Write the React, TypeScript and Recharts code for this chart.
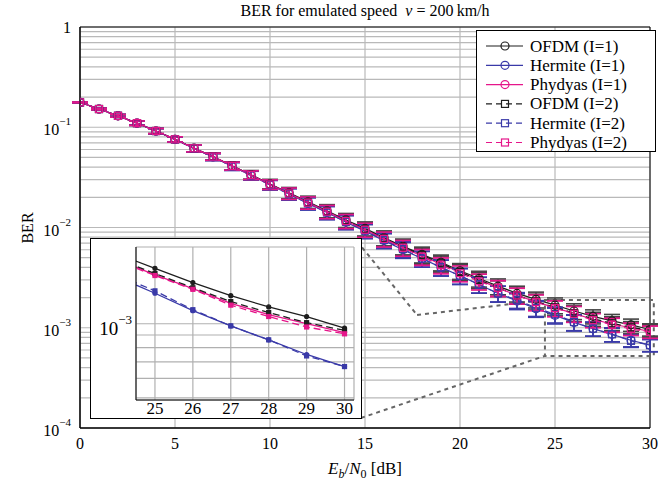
import React from "react";
import {
  LineChart,
  Line,
  XAxis,
  YAxis,
  CartesianGrid,
  ErrorBar,
  Legend,
  ReferenceArea,
  ReferenceLine,
} from "recharts";

const FONT = "'Liberation Serif', 'DejaVu Serif', serif";

// Eb/N0 in dB
const snrDb = [
  0, 1, 2, 3, 4, 5, 6, 7, 8, 9, 10, 11, 12, 13, 14, 15, 16, 17, 18, 19, 20, 21, 22, 23, 24, 25, 26, 27, 28, 29, 30,
];

const ofdmI1 = [
  0.177, 0.152, 0.13, 0.11, 0.0918, 0.0758, 0.0618, 0.051, 0.0413, 0.0336, 0.0272, 0.0222, 0.018, 0.0147, 0.0119,
  0.0098, 0.0079, 0.0065, 0.0054, 0.0045, 0.0037, 0.0031, 0.0026, 0.0022, 0.00192, 0.00168, 0.00147, 0.0013,
  0.00117, 0.00107, 0.00096,
];
const hermiteI1 = [
  0.177, 0.152, 0.13, 0.11, 0.0916, 0.0756, 0.0615, 0.0506, 0.0408, 0.0331, 0.0266, 0.0216, 0.0174, 0.0141, 0.0113,
  0.0092, 0.0074, 0.006, 0.0049, 0.004, 0.0033, 0.0027, 0.0022, 0.00185, 0.00155, 0.00133, 0.00113, 0.00098,
  0.00086, 0.00075, 0.00067,
];
const phydyasI1 = [
  0.177, 0.152, 0.13, 0.11, 0.0918, 0.0758, 0.0617, 0.0509, 0.0411, 0.0334, 0.0269, 0.0219, 0.0177, 0.0144, 0.0116,
  0.0095, 0.0077, 0.0063, 0.0052, 0.0043, 0.0036, 0.003, 0.0025, 0.0021, 0.00182, 0.00158, 0.00139, 0.00121,
  0.00109, 0.001, 0.00092,
];
const ofdmI2 = [
  0.177, 0.152, 0.13, 0.11, 0.0918, 0.0758, 0.0617, 0.0509, 0.0412, 0.0335, 0.027, 0.022, 0.0178, 0.0145, 0.0117,
  0.0096, 0.0078, 0.0064, 0.0053, 0.0044, 0.0036, 0.003, 0.0025, 0.0021, 0.00183, 0.0016, 0.0014, 0.00123,
  0.00111, 0.00101, 0.00094,
];
const hermiteI2 = [
  0.177, 0.152, 0.13, 0.11, 0.0916, 0.0756, 0.0615, 0.0506, 0.0408, 0.0331, 0.0266, 0.0216, 0.0174, 0.0141, 0.0114,
  0.0093, 0.0075, 0.0061, 0.0049, 0.004, 0.0033, 0.0027, 0.0022, 0.0019, 0.00158, 0.00136, 0.00114, 0.00098,
  0.00086, 0.00074, 0.00067,
];
const phydyasI2 = [
  0.177, 0.152, 0.13, 0.11, 0.0918, 0.0758, 0.0617, 0.0509, 0.0411, 0.0334, 0.0269, 0.0219, 0.0177, 0.0144, 0.0116,
  0.0095, 0.0077, 0.0063, 0.0051, 0.0042, 0.0035, 0.0029, 0.0025, 0.0021, 0.0018, 0.00157, 0.00138, 0.00119,
  0.00107, 0.00097, 0.00091,
];

// half-width of the error bars, % of the value
const errPct = [
  1, 2, 3, 5, 6, 6, 8, 8, 9, 10, 11, 13, 14, 15, 16, 16, 17, 18, 18, 18, 18, 18, 18, 18, 18, 18, 18, 16, 16, 14, 14,
];

const xTicks = [0, 5, 10, 15, 20, 25, 30];
const decades = [1e-4, 1e-3, 1e-2, 1e-1, 1];
const minorSteps = [2, 3, 4, 5, 6, 7, 8, 9];

const insetXTicks = [25, 26, 27, 28, 29, 30];
const insetYTicks = [5e-4, 6e-4, 7e-4, 8e-4, 9e-4, 1e-3];
const insetXDomain = [24.5, 30.25];
const insetYDomain = [4.9e-4, 2.05e-3];

// dashed zoom box and connectors (data coords of main plot)
const zoomBox = { x1: 24.47, x2: 30.2, y1: 5.24e-4, y2: 1.89e-3 };
const connectorTop = [
  { x: 14.58, y: 7.3e-3 },
  { x: 17.74, y: 1.34e-3 },
  { x: 24.47, y: 1.89e-3 },
];
const connectorBottom = [
  { x: 14.79, y: 1.26e-4 },
  { x: 24.47, y: 5.24e-4 },
];

const BLACK = "#1e1e1e";
const BLUE = "#3a3aa8";
const PINK = "#e5168a";

const series = [
  { key: "ofdm1", name: "OFDM (I=1)", values: ofdmI1, color: BLACK, bar: "#444", dashed: false, shape: "circle" },
  { key: "herm1", name: "Hermite (I=1)", values: hermiteI1, color: BLUE, bar: BLUE, dashed: false, shape: "circle" },
  { key: "phyd1", name: "Phydyas (I=1)", values: phydyasI1, color: PINK, bar: PINK, dashed: false, shape: "circle" },
  { key: "ofdm2", name: "OFDM (I=2)", values: ofdmI2, color: BLACK, bar: "#444", dashed: true, shape: "square" },
  { key: "herm2", name: "Hermite (I=2)", values: hermiteI2, color: BLUE, bar: BLUE, dashed: true, shape: "square" },
  { key: "phyd2", name: "Phydyas (I=2)", values: phydyasI2, color: PINK, bar: PINK, dashed: true, shape: "square" },
];

const table = snrDb.map((x, i) => {
  const row: Record<string, any> = { x };
  series.forEach((s) => {
    const v = s.values[i];
    const e = (v * errPct[i]) / 100;
    row[s.key] = v;
    row["e_" + s.key] = [e, e];
  });
  return row;
});

const yTicks = decades.flatMap((d) => (d === 1 ? [d] : [d, ...minorSteps.map((m) => +(m * d).toPrecision(3))]));

const serif = { fontFamily: FONT };

function makeDot(shape: string, color: string, size: number, filled: boolean) {
  return (props: any) => {
    const { cx, cy, index } = props;
    if (cx == null || cy == null) return <g key={index} />;
    if (shape === "square") {
      return (
        <rect
          key={index}
          x={cx - size}
          y={cy - size}
          width={size * 2}
          height={size * 2}
          fill={filled ? color : "none"}
          stroke={color}
          strokeWidth={1.2}
        />
      );
    }
    return (
      <circle key={index} cx={cx} cy={cy} r={size} fill={filled ? color : "none"} stroke={color} strokeWidth={1.2} />
    );
  };
}

function PowerTick(props: any) {
  const { x, y, payload, big } = props;
  const v = payload.value;
  const shown = big ? v === 1e-3 : decades.includes(v);
  if (!shown) return <g />;
  const exp = Math.round(Math.log10(v));
  const fs = big ? 19 : 16;
  return (
    <text x={x} y={y} textAnchor="end" dominantBaseline="central" fontSize={fs} fill="#000" style={serif}>
      {exp === 0 ? (
        "1"
      ) : (
        <>
          <tspan dy={big ? 4 : 2}>10</tspan>
          <tspan dy={big ? -9 : -8} fontSize={big ? 13 : 11}>
            {"\u2212" + -exp}
          </tspan>
        </>
      )}
    </text>
  );
}

function PlainTick(props: any) {
  const { x, y, payload, size } = props;
  return (
    <text x={x} y={y} textAnchor="middle" dominantBaseline="hanging" fontSize={size} fill="#000" style={serif}>
      {payload.value}
    </text>
  );
}

function XLabel(props: any) {
  const { x, y, width } = props.viewBox;
  return (
    <text x={x + width / 2} y={y + 46} textAnchor="middle" fontSize={17} fill="#000" style={serif}>
      <tspan fontStyle="italic">E</tspan>
      <tspan dy={4} fontSize={12} fontStyle="italic">
        b
      </tspan>
      <tspan dy={-4}>/</tspan>
      <tspan fontStyle="italic">N</tspan>
      <tspan dy={4} fontSize={12}>
        0
      </tspan>
      <tspan dy={-4}>{" [dB]"}</tspan>
    </text>
  );
}

function YLabel() {
  return (
    <text
      x={27}
      y={228}
      textAnchor="middle"
      dominantBaseline="central"
      transform="rotate(-90 27 228)"
      fontSize={16}
      fill="#000"
      style={serif}
    >
      BER
    </text>
  );
}

function LegendBox() {
  return (
    <div style={{ width: 180, height: 122, background: "#fff", border: "1px solid #000", boxSizing: "border-box" }}>
      <svg width={178} height={120}>
        {series.map((s, i) => {
          const cy = 15 + i * 19.3;
          return (
            <g key={s.key}>
              <line
                x1={9}
                x2={46}
                y1={cy}
                y2={cy}
                stroke={s.color}
                strokeWidth={1.2}
                strokeDasharray={s.dashed ? "6 4" : undefined}
              />
              {makeDot(s.shape, s.color, s.shape === "square" ? 3.5 : 4, false)({ cx: 28, cy, index: i })}
              <text x={53} y={cy} dominantBaseline="central" fontSize={17} fill="#000" style={serif}>
                {s.name}
              </text>
            </g>
          );
        })}
      </svg>
    </div>
  );
}

export default function App() {
  const dash = "4 4";
  return (
    <div
      style={{ position: "absolute", left: 0, top: 0, width: 668, height: 485, background: "#fff", fontFamily: FONT }}
    >
      <div
        style={{
          position: "absolute",
          left: 80,
          width: 570,
          top: 2,
          textAlign: "center",
          fontSize: 16,
          zIndex: 2,
        }}
      >
        BER for emulated speed&nbsp;&nbsp;<i>v</i> = 200&thinsp;km/h
      </div>
      <LineChart width={668} height={485} data={table} margin={{ top: 27, right: 18, left: 20, bottom: 17 }}>
        <CartesianGrid stroke="#b9b9b9" strokeWidth={1.2} />
        {/* inward minor ticks along the bottom edge */}
        <XAxis
          xAxisId="minor"
          dataKey="x"
          type="number"
          domain={[0, 30]}
          ticks={snrDb}
          interval={0}
          height={0}
          mirror
          axisLine={false}
          tickSize={3}
          tickLine={{ stroke: "#000" }}
          tick={<g />}
        />
        <XAxis
          dataKey="x"
          type="number"
          domain={[0, 30]}
          ticks={xTicks}
          allowDataOverflow
          height={40}
          tickLine={false}
          tickSize={6}
          tickMargin={4}
          axisLine={{ stroke: "#000" }}
          tick={<PlainTick size={16} />}
          label={<XLabel />}
        />
        <YAxis
          type="number"
          scale="log"
          domain={[1e-4, 1]}
          ticks={yTicks}
          allowDataOverflow
          width={60}
          tickLine={false}
          tickSize={6}
          tickMargin={3}
          interval={0}
          axisLine={{ stroke: "#000" }}
          tick={<PowerTick />}
          label={<YLabel />}
        />
        <ReferenceArea x1={0} x2={30} y1={1e-4} y2={1} fill="none" stroke="#000" strokeWidth={1} />
        <ReferenceArea
          x1={zoomBox.x1}
          x2={zoomBox.x2}
          y1={zoomBox.y1}
          y2={zoomBox.y2}
          fill="none"
          stroke="#666"
          strokeWidth={2}
          strokeDasharray={dash}
          ifOverflow="visible"
        />
        <ReferenceLine
          segment={[connectorTop[0], connectorTop[1]]}
          stroke="#666"
          strokeWidth={2}
          strokeDasharray={dash}
          ifOverflow="visible"
        />
        <ReferenceLine
          segment={[connectorTop[1], connectorTop[2]]}
          stroke="#666"
          strokeWidth={2}
          strokeDasharray={dash}
          ifOverflow="visible"
        />
        <ReferenceLine
          segment={[connectorBottom[0], connectorBottom[1]]}
          stroke="#666"
          strokeWidth={2}
          strokeDasharray={dash}
          ifOverflow="visible"
        />
        {series.map((s) => (
          <Line
            key={s.key}
            dataKey={s.key}
            name={s.name}
            stroke={s.color}
            strokeWidth={1.2}
            strokeDasharray={s.dashed ? "6 4" : undefined}
            dot={makeDot(s.shape, s.color, s.shape === "square" ? 3.5 : 4, false)}
            activeDot={false}
            isAnimationActive={false}
          >
            <ErrorBar
              dataKey={"e_" + s.key}
              direction="y"
              width={8}
              stroke={s.bar}
              strokeWidth={1.6}
              isAnimationActive={false}
            />
          </Line>
        ))}
        <Legend
          content={<LegendBox />}
          layout="horizontal"
          verticalAlign="middle"
          wrapperStyle={{ left: 476, top: 30, width: 180, height: 122 }}
        />
      </LineChart>
      <div
        style={{
          position: "absolute",
          left: 90,
          top: 238,
          width: 272,
          height: 181,
          background: "#fff",
          border: "1px solid #000",
          boxSizing: "border-box",
          zIndex: 3,
        }}
      >
        <LineChart width={270} height={179} data={table} margin={{ top: 8, right: 7, left: 0, bottom: 0 }}>
          <CartesianGrid stroke="#b0b0b0" strokeWidth={1.2} />
          <XAxis
            dataKey="x"
            type="number"
            domain={insetXDomain}
            ticks={insetXTicks}
            allowDataOverflow
            height={18}
            tickLine={false}
            tickSize={0}
            tickMargin={2}
            axisLine={{ stroke: "#000" }}
            tick={<PlainTick size={17} />}
          />
          <YAxis
            type="number"
            scale="log"
            domain={insetYDomain}
            ticks={insetYTicks}
            allowDataOverflow
            width={45}
            tickLine={false}
            tickSize={0}
            tickMargin={4}
            interval={0}
            axisLine={{ stroke: "#000" }}
            tick={<PowerTick big />}
          />
          {series.map((s) => (
            <Line
              key={s.key}
              dataKey={s.key}
              stroke={s.color}
              strokeWidth={1.3}
              strokeDasharray={s.dashed ? "7 4" : undefined}
              dot={makeDot(s.shape, s.color, 2, true)}
              activeDot={false}
              isAnimationActive={false}
            />
          ))}
        </LineChart>
      </div>
    </div>
  );
}
